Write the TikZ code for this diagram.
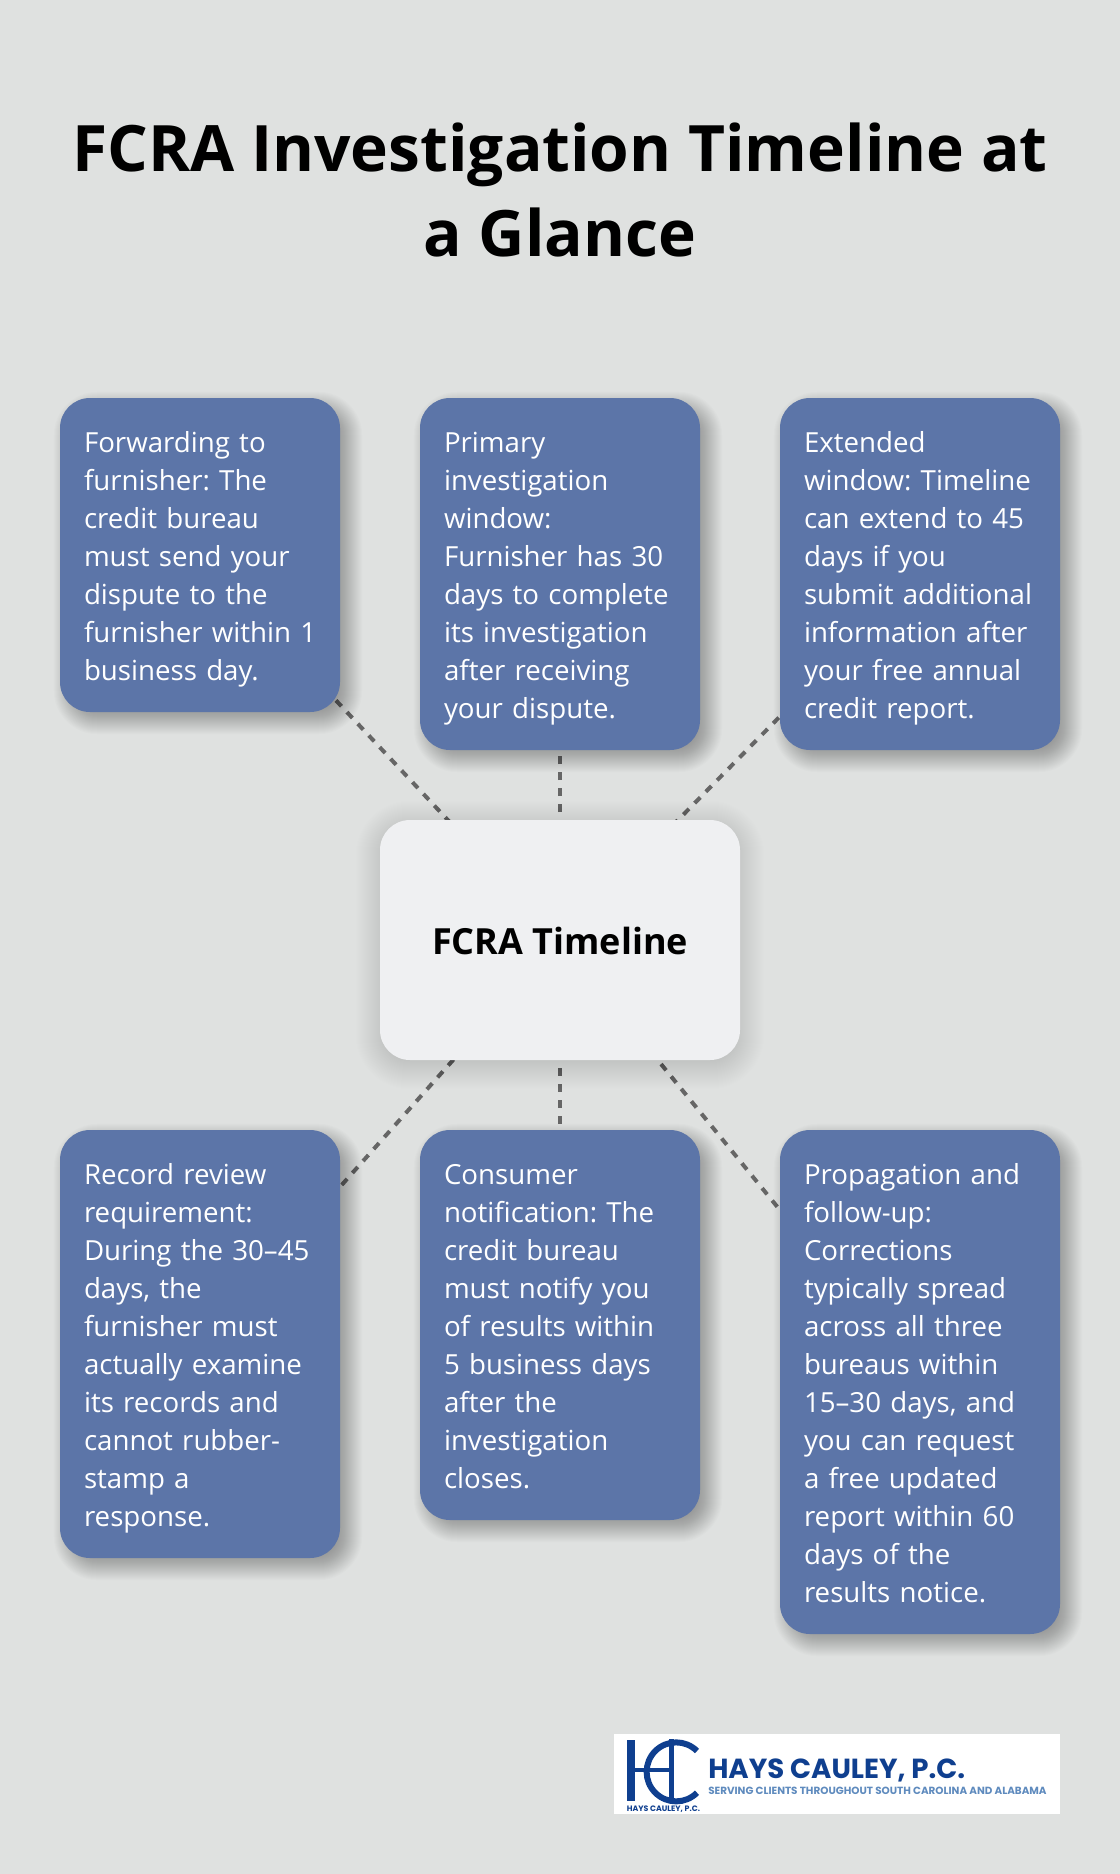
\documentclass[tikz,border=0pt]{standalone}
\usepackage{fontspec}
\setmainfont{Open Sans}
\newfontfamily\logofont{Poppins}
\usetikzlibrary{calc}
\newlength\pxu \setlength\pxu{.75pt}
\pgfdeclarelayer{lines}\pgfdeclarelayer{shades}
\pgfsetlayers{lines,shades,main}
\definecolor{pagebg}{HTML}{DFE1E0}
\definecolor{cardblue}{HTML}{5C75A8}
\definecolor{hubfill}{HTML}{EFF0F2}
\definecolor{dashgrey}{HTML}{666666}
\definecolor{logoblue}{HTML}{0F3F8F}
\definecolor{logolight}{HTML}{5F8BBE}
\tikzset{
  card/.style={rectangle,fill=cardblue,rounded corners=30\pxu,minimum width=280\pxu,
    text width=232\pxu,inner xsep=24\pxu,inner ysep=0pt,align=left,text=white,
    font=\fontsize{20.75}{28.5}\selectfont\frenchspacing,
    execute at begin node={\rule{0pt}{22.5pt}},
    execute at end node={\rule[-6pt]{0pt}{0pt}}},
  hub/.style={rectangle,fill=hubfill,rounded corners=30\pxu,minimum width=360\pxu,minimum height=240\pxu,
    font=\bfseries\fontsize{27}{32}\selectfont,text=black},
  link/.style={draw=dashgrey,line width=4\pxu,dash pattern=on 8\pxu off 8\pxu},
  titletext/.style={align=center,text=black,font=\bfseries\fontsize{48}{63.8}\selectfont},
  logobrand/.style={inner sep=0pt,anchor=west,text=logoblue},
  logotag/.style={inner sep=0pt,anchor=west,text=logolight},
}
\newcommand\softshade[6]{%
  \foreach \e in {#4,...,#5}{%
    \pgfmathsetmacro\rr{max(2,30+\e)}%
    \fill[black,fill opacity=#6,rounded corners=\rr\pxu]
      ([shift={(#2-\e,#3+\e)}]#1.south west) rectangle ([shift={(#2+\e,#3-\e)}]#1.north east);
  }%
}
\begin{document}
\begin{tikzpicture}[x=.75pt,y=-.75pt]
\useasboundingbox (0,0) rectangle (1120,1874);
\begin{pgfonlayer}{lines}
  \fill[pagebg] (0,0) rectangle (1120,1874);
\end{pgfonlayer}

\node[titletext] (title) at (560,190) {FCRA Investigation Timeline at\\a Glance};

\node[hub] (hub) at (560,940) {\rule{0pt}{22.5pt}FCRA Timeline};

\node[card,minimum height=314\pxu] (b1) at (200,555) {Forwarding to\\furnisher: The\\credit bureau\\must send your\\dispute to the\\\mbox{furnisher within 1}\\business day.};
\node[card,minimum height=352\pxu] (b2) at (560,574) {Primary\\investigation\\window:\\Furnisher has 30\\days to complete\\its investigation\\after receiving\\your dispute.};
\node[card,minimum height=352\pxu] (b3) at (920,574) {Extended\\window: Timeline\\can extend to 45\\days if you\\submit additional\\information after\\your free annual\\credit report.};
\node[card,minimum height=428\pxu] (b4) at (200,1344) {Record review\\requirement:\\During the 30–45\\days, the\\furnisher must\\actually examine\\its records and\\cannot rubber-\\stamp a\\response.};
\node[card,minimum height=390\pxu] (b5) at (560,1325) {Consumer\\notification: The\\credit bureau\\must notify you\\of results within\\5 business days\\after the\\investigation\\closes.};
\node[card,minimum height=504\pxu] (b6) at (920,1382) {Propagation and\\follow-up:\\Corrections\\typically spread\\across all three\\bureaus within\\15–30 days, and\\you can request\\a free updated\\report within 60\\days of the\\results notice.};

\begin{pgfonlayer}{lines}
  \foreach \n in {b1,b2,b3,b4,b5,b6}{\draw[link] (hub.center) -- (\n.center);}
\end{pgfonlayer}
\begin{pgfonlayer}{shades}
  \foreach \n in {b1,b2,b3,b4,b5,b6}{\softshade{\n}{8}{8}{-14}{14}{.012}}
  \softshade{hub}{0}{5}{-20}{24}{.0045}
\end{pgfonlayer}

% logo
\node[rectangle,fill=white,minimum width=446\pxu,minimum height=80\pxu,inner sep=0pt] (logo) at (837,1774) {};
\fill[logoblue] (627,1739.5) rectangle (635,1801);
\fill[logoblue] (635,1767.5) rectangle (669,1772);
\fill[logoblue] (669,1739) rectangle (674,1802);
\draw[logoblue,line width=6\pxu] (697,1751) arc[start angle=-45,end angle=-315,radius=29.5];
\node[logobrand,font=\logofont\bfseries\fontsize{20.7}{24}\selectfont] (brand) at (708,1770) {HAYS CAULEY, P.C.};
\node[logotag,font=\logofont\bfseries\fontsize{7.8}{9}\selectfont] (tag) at (708,1790.5) {SERVING CLIENTS THROUGHOUT SOUTH CAROLINA AND ALABAMA};
\node[logotag,text=logoblue,font=\logofont\bfseries\fontsize{5.9}{6}\selectfont] (small) at (626.5,1809) {HAYS CAULEY, P.C.};
\end{tikzpicture}
\end{document}
